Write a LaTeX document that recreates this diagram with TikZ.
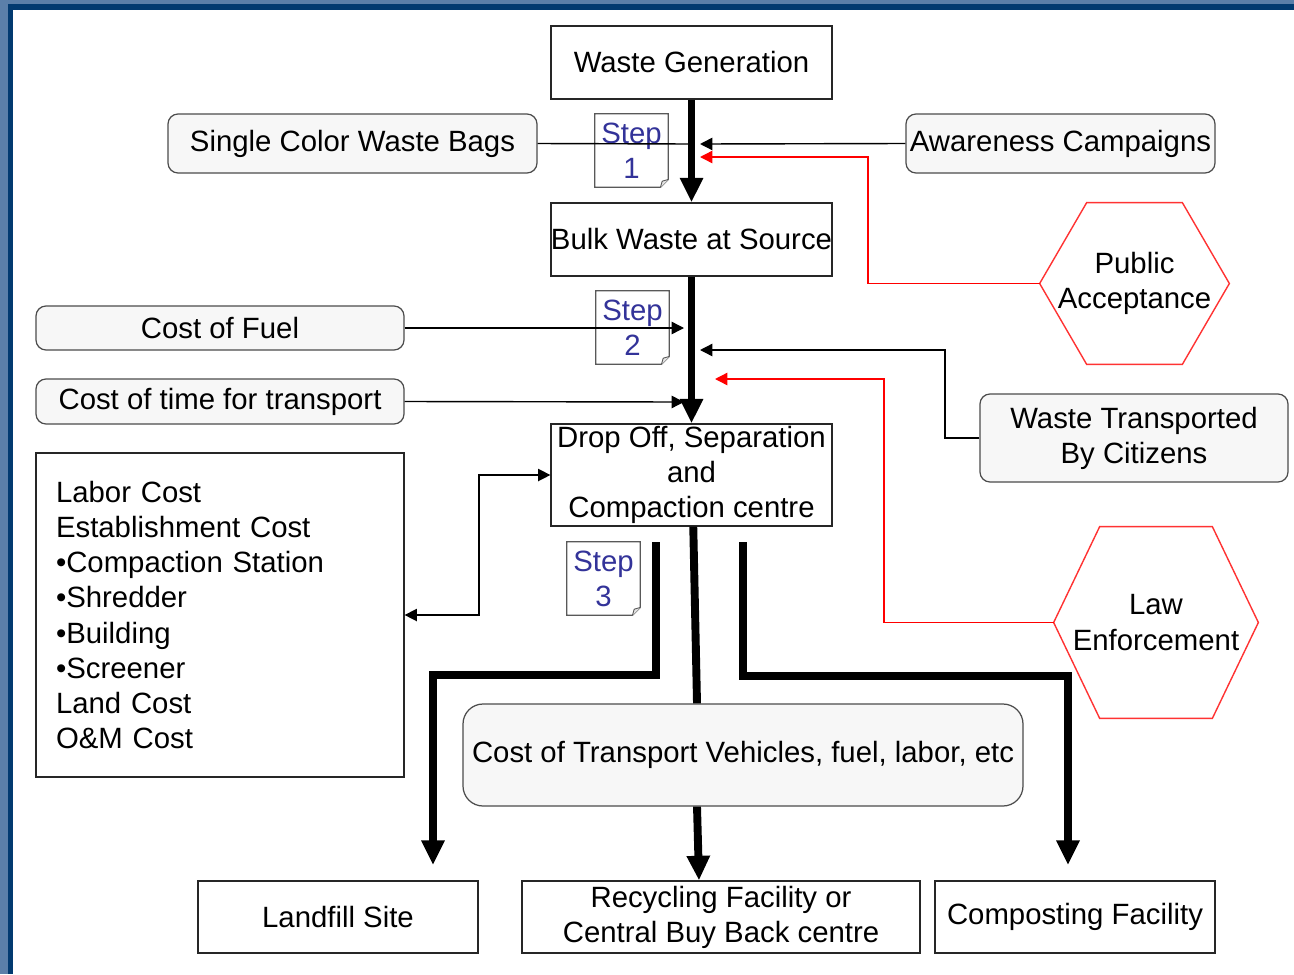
\documentclass[tikz,border=0pt]{standalone}
\usepackage{fontspec}
\setmainfont{Liberation Sans}
\usepackage{tikz}
\usetikzlibrary{arrows.meta}
\definecolor{frameout}{HTML}{5B7FA9}
\definecolor{framein}{HTML}{023A70}
\definecolor{stepblue}{HTML}{333399}
\definecolor{boxfill}{HTML}{F7F7F7}
\definecolor{hexred}{HTML}{FF3333}

\tikzset{
	sz/.style 2 args={minimum width=#1*0.02cm, minimum height=#2*0.02cm},
	box/.style={draw=black!85, line width=0.7pt, fill=white, inner sep=0pt, align=center,
		font=\fontsize{16.7}{20}\selectfont},
	rbox/.style={box, draw=black!70, fill=boxfill, rounded corners=0.2cm},
	hexa/.style={inner sep=0pt, align=center, font=\fontsize{16.7}{20}\selectfont},
	note/.style={hexa, sz={73}{73}, text=stepblue},
	thin/.style={line width=0.8pt, -{Triangle[length=7pt,width=7pt]}},
	redline/.style={thin, red},
	flow/.style={line width=4.5pt},
	flowarrow/.style={flow, -{Triangle[length=14pt,width=12.5pt]}}
}

\begin{document}
\begin{tikzpicture}[x=0.02cm,y=-0.02cm]
	% frame
	\fill[frameout] (0,0) rectangle (1294,974);
	\fill[framein] (8,4) rectangle (1294,974);
	\fill[white] (13,10) rectangle (1294,974);
	\useasboundingbox (0,0) rectangle (1294,974);

	% boxes
	\node[box, sz={281}{73}] (gen) at (691.5,62.5) {Waste Generation};
	\node[rbox, sz={369}{59}] (bags) at (352.5,143.5) {Single Color Waste Bags};
	\node[rbox, sz={309}{59}] (aware) at (1060.5,143.5) {Awareness Campaigns};
	\node[box, sz={281}{73}] (bulk) at (691.5,239.5) {Bulk Waste at Source};
	\node[hexa, sz={189}{161}] (accept) at (1134.5,283.5) {Public\\Acceptance};
	\node[rbox, sz={368}{44}] (fuel) at (220,328) {Cost of Fuel};
	\node[rbox, sz={368}{45}] (time) at (220,401.5) {Cost of time for transport};
	\node[rbox, sz={308}{88}] (citizens) at (1134,438) {Waste Transported\\By Citizens};
	\node[box, sz={281}{102}] (drop) at (691.5,475) {Drop Off, Separation\\and\\Compaction centre};
	\node[box, sz={368}{324}, text width=6.56cm, inner xsep=0.4cm, align=left] (labor) at (220,615)
		{Labor Cost\\Establishment Cost\\\textbullet Compaction Station\\\textbullet Shredder\\\textbullet Building\\\textbullet Screener\\Land Cost\\O\&M Cost};
	\node[hexa, sz={204}{191}] (law) at (1156,622.5) {Law\\Enforcement};
	\node[rbox, sz={560}{102}, rounded corners=0.4cm] (vehicles) at (743,755) {Cost of Transport Vehicles, fuel, labor, etc};
	\node[box, sz={280}{72}] (landfill) at (338,917) {Landfill Site};
	\node[box, sz={398}{72}] (recycle) at (721,917) {Recycling Facility or\\Central Buy Back centre};
	\node[box, sz={280}{72}] (compost) at (1075,917) {Composting Facility};

	% hexagons
	\foreach \n/\d in {accept/0.94cm, law/0.92cm}
		\draw[hexred, line width=0.8pt] (\n.west) -- ([xshift=\d]\n.north west) -- ([xshift=-\d]\n.north east)
			-- (\n.east) -- ([xshift=-\d]\n.south east) -- ([xshift=\d]\n.south west) -- cycle;

	% step notes
	\node[note] (s1) at (631.5,150.5) {Step\\1};
	\node[note] (s2) at (632.5,327.5) {Step\\2};
	\node[note] (s3) at (603.5,578.5) {Step\\3};
	\foreach \n in {s1, s2, s3} {
		\draw[black!65, line width=0.7pt] (\n.north west) -- (\n.north east) -- ([yshift=4.5pt]\n.south east)
			-- ([xshift=-4.5pt]\n.south east) -- (\n.south west) -- cycle;
		\draw[black!65, fill=black!10, line width=0.5pt] ([yshift=4.5pt]\n.south east) -- ([xshift=-3.5pt,yshift=3.5pt]\n.south east)
			-- ([xshift=-4.5pt]\n.south east);
	}

	% arrow ends
	\coordinate (b1) at (691,144);
	\coordinate (a1) at (700,144);
	\coordinate (r1) at (700,157);
	\coordinate (f1) at (684,328);
	\coordinate (c1) at (700,350);
	\coordinate (r2) at (715,379);
	\coordinate (f2) at (684,402);
	\coordinate (d1) at (656,542);
	\coordinate (d2) at (743,542);
	\coordinate (l1) at (433,865);
	\coordinate (l2) at (1068,865);

	% side inputs
	\draw[line width=0.8pt] (bags.east) -- (b1);
	\draw[thin] (aware.west) -- (a1);
	\draw[redline] (accept.west) -- (868,283.5) |- (r1);
	\draw[thin] (fuel.east) -- (f1);
	\draw[thin] (time.east) -- (f2);
	\draw[thin] (citizens.west) -- (945,438) |- (c1);
	\draw[redline] (law.west) -- (884,622.5) |- (r2);
	\draw[thin, {Triangle[length=7pt,width=7pt]}-{Triangle[length=7pt,width=7pt]}] (labor.east) -- (479,615) |- (drop.west);

	% main flow
	\draw[flowarrow] (gen.south) -- (bulk.north);
	\draw[flowarrow] (bulk.south) -- (drop.north);
	\draw[flowarrow] (d1) -- (656,675) -| (l1);
	\draw[flowarrow] (d2) -- (743,676) -| (l2);
	\draw[flow] ([xshift=1pt]drop.south) -- ([xshift=-0.92cm]vehicles.north);
	\draw[flowarrow] ([xshift=-0.92cm]vehicles.south) -- ([xshift=-0.44cm]recycle.north);
\end{tikzpicture}
\end{document}
